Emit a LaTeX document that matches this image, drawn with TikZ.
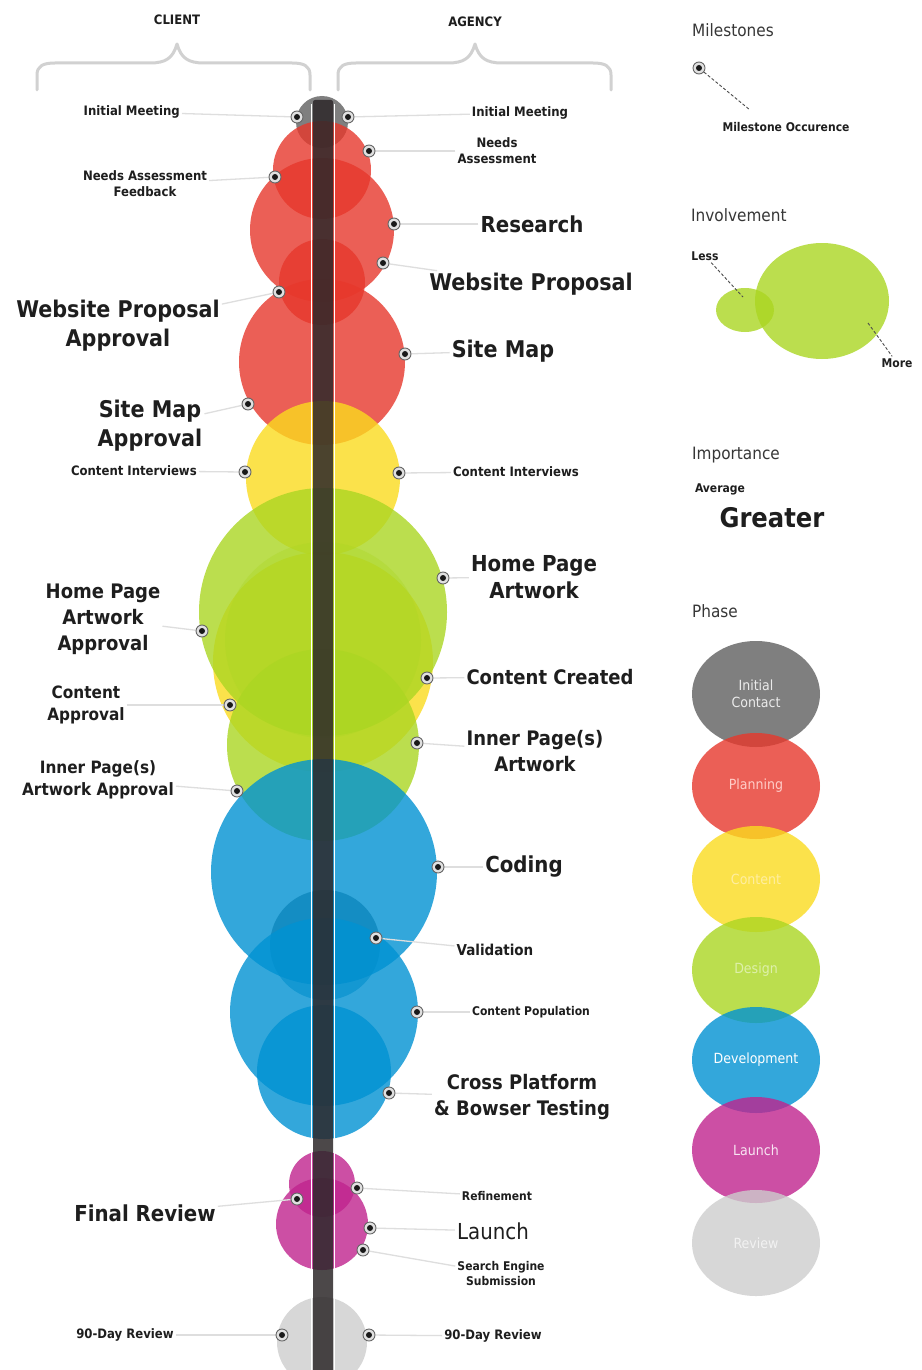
\documentclass[tikz,border=0pt]{standalone}
\usepackage{fontspec}
\setmainfont{DejaVu Sans Condensed}
\usetikzlibrary{shapes.geometric}

\definecolor{ink}{RGB}{30,30,30}
\definecolor{title}{RGB}{55,55,55}
\definecolor{redc}{RGB}{231,56,44}
\definecolor{yelc}{RGB}{251,219,30}
\definecolor{grnc}{RGB}{171,214,34}
\definecolor{bluc}{RGB}{0,146,211}
\definecolor{magc}{RGB}{192,36,142}
\definecolor{gryc}{RGB}{95,95,95}
\definecolor{revc}{RGB}{205,205,205}
\definecolor{barc}{RGB}{45,40,42}

% circles and bar at the back, leader lines above them, markers and text on top
\pgfdeclarelayer{back}
\pgfdeclarelayer{mid}
\pgfsetlayers{back,mid,main}

\begin{document}
\begin{tikzpicture}[x=1pt,y=-1pt,
  t12/.style={font=\fontsize{12}{15}\selectfont\bfseries, text=ink, align=center, inner sep=2pt},
  t13/.style={font=\fontsize{13}{16}\selectfont\bfseries, text=ink, align=center, inner sep=2pt},
  t15/.style={font=\fontsize{15}{19}\selectfont\bfseries, text=ink, align=center, inner sep=2pt},
  t17/.style={font=\fontsize{17}{22}\selectfont\bfseries, text=ink, align=center, inner sep=2pt},
  t20/.style={font=\fontsize{20}{26}\selectfont\bfseries, text=ink, align=center, inner sep=2pt},
  t22/.style={font=\fontsize{22}{27}\selectfont\bfseries, text=ink, align=center, inner sep=2pt},
  t23/.style={font=\fontsize{23}{29}\selectfont\bfseries, text=ink, align=center, inner sep=2pt},
  legtitle/.style={font=\fontsize{17}{20}\selectfont, text=title, anchor=west, inner sep=0pt},
  brace/.style={draw=black!18, line width=3pt, line cap=round, line join=round},
  link/.style={draw=black!13, line width=1.3pt},
  dashline/.style={draw=black!70, line width=0.9pt, densely dashed},
  ms/.style={circle, minimum size=12pt, inner sep=0pt, fill=black!12, draw=black!60,
    line width=0.9pt, path picture={\fill[black!90] (path picture bounding box.center) circle[radius=3pt];}},
  blob/.style={fill opacity=0.8},
  phase/.style={ellipse, minimum width=128pt, minimum height=106pt, inner sep=0pt,
    fill opacity=0.8, text opacity=1, font=\fontsize{14}{17}\selectfont, align=center}
]
\useasboundingbox (0,0) rectangle (921,1370);

\begin{pgfonlayer}{back}
\fill[white] (0,0) rectangle (921,1370);

% ---------- phase circles along the timeline ----------
\fill[blob, gryc] (322,122) circle[radius=26pt];
\fill[blob, redc] (322,170) circle[radius=49pt];
\fill[blob, redc] (322,230) circle[radius=72pt];
\fill[blob, redc] (322,282) circle[radius=43pt];
\fill[blob, redc] (322,362) circle[radius=83pt];
\fill[blob, yelc] (323,478) circle[radius=77pt];
\fill[blob, yelc] (323,662) circle[radius=110pt];
\fill[blob, grnc] (323,612) circle[radius=124pt];
\fill[grnc, fill opacity=0.35] (323,640) circle[radius=98pt];
\fill[blob, grnc] (323,745) circle[radius=96pt];
\fill[blob, bluc] (324,872) circle[radius=113pt];
\fill[bluc!85!black, fill opacity=0.6] (325,945) circle[radius=55pt];
\fill[blob, bluc] (324,1012) circle[radius=94pt];
\fill[blob, bluc] (324,1072) circle[radius=67pt];
\fill[blob, magc] (322,1184) circle[radius=33pt];
\fill[blob, magc] (322,1224) circle[radius=46pt];
\fill[blob, revc] (322,1342) circle[radius=45pt];

% ---------- central timeline bar ----------
\fill[barc, fill opacity=0.85, rounded corners=2pt] (313,100) rectangle (333,1376);
\draw[white, line width=1.6pt] (311.5,104) -- (311.5,1370);
\draw[white, line width=1.6pt] (334.5,104) -- (334.5,1370);
\end{pgfonlayer}

% ---------- column headers and braces ----------
\node[t13] (client) at (177,20) {CLIENT};
\node[t13] (agency) at (475,22) {AGENCY};
\draw[brace] (37,90) -- (37,75) .. controls (37,66) and (43,63) .. (55,63) -- (150,63)
  .. controls (166,63) and (173,58) .. (177,44) .. controls (181,58) and (188,63) .. (204,63)
  -- (292,63) .. controls (304,63) and (310,66) .. (310,75) -- (310,90);
\draw[brace] (338,90) -- (338,75) .. controls (338,66) and (344,63) .. (356,63) -- (448,63)
  .. controls (464,63) and (471,58) .. (475,44) .. controls (479,58) and (486,63) .. (502,63)
  -- (593,63) .. controls (605,63) and (611,66) .. (611,75) -- (611,90);

% ---------- client milestones ----------
\node[t13, anchor=east] (L1) at (182,112) {Initial Meeting};
\node[t13] (L2) at (145,184) {Needs Assessment\\Feedback};
\node[t23] (L3) at (118,326) {Website Proposal\\Approval};
\node[t23] (L4) at (150,426) {Site Map\\Approval};
\node[t13, anchor=east] (L5) at (199,471) {Content Interviews};
\node[t20] (L6) at (103,619) {Home Page\\Artwork\\Approval};
\node[t17] (L7) at (86,705) {Content\\Approval};
\node[t17] (L8) at (98,780) {Inner Page(s)\\Artwork Approval};
\node[t22] (L9) at (145,1213) {Final Review};
\node[t13] (L10) at (125,1335) {90-Day Review};

\node[ms] (mL1) at (297,117) {};
\node[ms] (mL2) at (275,177) {};
\node[ms] (mL3) at (279,292) {};
\node[ms] (mL4) at (248,404) {};
\node[ms] (mL5) at (245,472) {};
\node[ms] (mL6) at (202,631) {};
\node[ms] (mL7) at (230,705) {};
\node[ms] (mL8) at (237,791) {};
\node[ms] (mL9) at (297,1199) {};
\node[ms] (mL10) at (282,1335) {};

% ---------- agency milestones ----------
\node[t13] (R1) at (520,113) {Initial Meeting};
\node[t13] (R2) at (497,151) {Needs\\Assessment};
\node[t22] (R3) at (532,224) {Research};
\node[t23] (R4) at (531,284) {Website Proposal};
\node[t23] (R5) at (503,351) {Site Map};
\node[t13] (R6) at (516,472) {Content Interviews};
\node[t22] (R7) at (534,577) {Home Page\\Artwork};
\node[t20] (R8) at (550,677) {Content Created};
\node[t20] (R9) at (535,751) {Inner Page(s)\\Artwork};
\node[t22] (R10) at (524,867) {Coding};
\node[t15] (R11) at (495,950) {Validation};
\node[t12] (R12) at (531,1012) {Content Population};
\node[t20] (R13) at (522,1097) {Cross Platform\\\& Bowser Testing};
\node[t12] (R14) at (497,1196) {Refinement};
\node[t22, font=\fontsize{22}{27}\selectfont] (R15) at (493,1231) {Launch};
\node[t12] (R16) at (501,1274) {Search Engine\\Submission};
\node[t13] (R17) at (493,1336) {90-Day Review};

\node[ms] (mR1) at (348,117) {};
\node[ms] (mR2) at (369,151) {};
\node[ms] (mR3) at (394,224) {};
\node[ms] (mR4) at (383,263) {};
\node[ms] (mR5) at (405,354) {};
\node[ms] (mR6) at (399,473) {};
\node[ms] (mR7) at (443,578) {};
\node[ms] (mR8) at (427,678) {};
\node[ms] (mR9) at (417,743) {};
\node[ms] (mR10) at (438,867) {};
\node[ms] (mR11) at (376,938) {};
\node[ms] (mR12) at (417,1012) {};
\node[ms] (mR13) at (389,1093) {};
\node[ms] (mR14) at (357,1188) {};
\node[ms] (mR15) at (370,1228) {};
\node[ms] (mR16) at (363,1250) {};
\node[ms] (mR17) at (369,1335) {};

% ---------- leader lines, kept beneath the markers ----------
\begin{pgfonlayer}{mid}
\foreach \n in {1,...,10} { \draw[link] (L\n) -- (mL\n); }
\foreach \n in {1,...,17} { \draw[link] (R\n) -- (mR\n); }
\end{pgfonlayer}

% ---------- legend: milestones ----------
\node[legtitle] (hMile) at (692,30) {Milestones};
\node[ms] (lgM) at (699,68) {};
\coordinate (lgMend) at (750,110);
\draw[dashline] (lgM) -- (lgMend);
\node[t12] (lgMtxt) at (786,127) {Milestone Occurence};

% ---------- legend: involvement ----------
\node[legtitle] (hInv) at (691,215) {Involvement};
\node[ellipse, minimum width=58pt, minimum height=44pt, fill=grnc, fill opacity=0.8] (invS) at (745,310) {};
\node[ellipse, minimum width=134pt, minimum height=116pt, fill=grnc, fill opacity=0.8] (invB) at (822,301) {};
\node[t12] (less) at (705,256) {Less};
\node[t12] (more) at (897,363) {More};
\coordinate (lessIn) at (743,297);
\coordinate (moreIn) at (868,323);
\draw[dashline] (less) -- (lessIn);
\draw[dashline] (moreIn) -- (more);

% ---------- legend: importance ----------
\node[legtitle] (hImp) at (692,455) {Importance};
\node[t12] (avg) at (720,489) {Average};
\node[font=\fontsize{27}{32}\selectfont\bfseries, text=ink] (great) at (772,518) {Greater};

% ---------- legend: phases ----------
\node[legtitle] (hPh) at (692,611) {Phase};
\node[phase, fill=gryc, text=black!8] (pInit) at (756,694) {Initial\\Contact};
\node[phase, fill=redc, text={rgb,255:red,255;green,205;blue,200}] (pPlan) at (756,786) {Planning};
\node[phase, fill=yelc, text={rgb,255:red,255;green,238;blue,160}] (pCont) at (756,879) {Content};
\node[phase, fill=grnc, text={rgb,255:red,222;green,240;blue,170}] (pDes) at (756,970) {Design};
\node[phase, fill=bluc, text=white] (pDev) at (756,1060) {Development};
\node[phase, fill=magc, text={rgb,255:red,248;green,228;blue,242}] (pLau) at (756,1150) {Launch};
\node[phase, fill=revc, text={rgb,255:red,242;green,242;blue,242}] (pRev) at (756,1243) {Review};
\end{tikzpicture}
\end{document}
